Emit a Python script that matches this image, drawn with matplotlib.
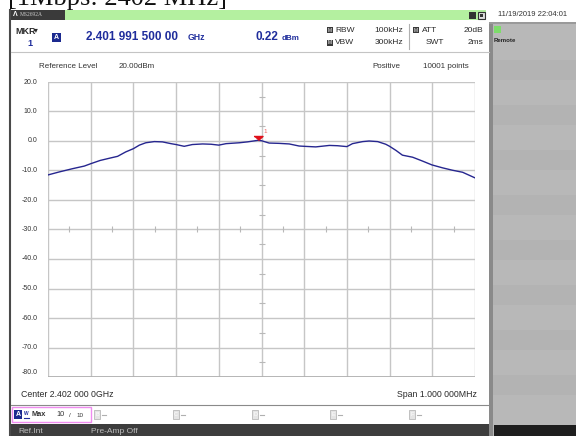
import numpy as np
import matplotlib
matplotlib.use("Agg")
import matplotlib.pyplot as plt
from matplotlib.patches import Rectangle

plt.rcParams['font.family'] = ['Liberation Sans', 'DejaVu Sans']

# Trace (Max hold): offset from 2.402 GHz centre in kHz, level in dBm
freq_offset_khz = [-500, -474, -443, -415, -400, -378, -355, -337, -318, -300,
                   -286, -271, -251, -232, -212, -200, -181, -162, -138, -118,
                   -100, -83, -52, -33, -8.5, 0, 18, 41, 65, 88,
                   100, 127, 159, 178, 200, 213, 237, 252, 272, 291,
                   300, 315, 330, 354, 377, 399, 424, 447, 471, 500]
level_dbm = [-11.5, -10.5, -9.4, -8.5, -7.7, -6.6, -5.8, -5.2, -3.7, -2.6,
             -1.4, -0.6, -0.2, -0.3, -0.9, -1.2, -1.8, -1.2, -1.0, -1.1,
             -1.4, -0.9, -0.6, -0.3, 0.22, 0.1, -0.7, -0.8, -1.0, -1.7,
             -1.8, -2.0, -1.5, -1.6, -1.9, -0.9, -0.2, 0.0, -0.2, -1.1,
             -1.8, -3.2, -4.8, -5.5, -6.8, -8.1, -9.1, -9.9, -10.6, -12.5]

marker_khz = -8.5
marker_dbm = 0.22

y_ticks = [20, 10, 0, -10, -20, -30, -40, -50, -60, -70, -80]
x_grid = np.arange(-500, 501, 100)

blue = '#1f2d9c'
dark = '#2a2a2a'

fig = plt.figure(figsize=(5.76, 4.36), dpi=100)

# background layer in pixel coordinates (0..576, 0..436 from top)
bg = fig.add_axes([0, 0, 1, 1])
bg.set_xlim(0, 576)
bg.set_ylim(436, 0)
bg.axis('off')

def box(x0, y0, x1, y1, **kw):
    bg.add_patch(Rectangle((x0, y0), x1 - x0, y1 - y0, **kw))

# title above the screenshot (cut off at the top)
bg.text(8, 4.5, '[1Mbps: 2402 MHz]', family=['Liberation Serif', 'DejaVu Serif'],
        fontsize=19, va='baseline', ha='left', color='#111111')

# instrument bar
box(10, 10, 65, 20, color='#3a3a3a', lw=0)
bg.text(13, 15, 'Λ', color='white', fontsize=5, fontweight='bold', va='center')
bg.text(20, 15, 'MS2692A', color='#cccccc', fontsize=4,
        family=['Liberation Serif', 'DejaVu Serif'], va='center')
box(65, 10, 486, 20, color='#b4f0a0', lw=0)
box(469, 12, 476, 19, color='#333333', lw=0)
box(478, 12, 485, 19, facecolor='#dddddd', edgecolor='#333333', lw=0.8)
box(480, 14, 483, 17, color='#333333', lw=0)
bg.text(498, 14, '11/19/2019 22:04:01', fontsize=5.5, color='#333333', va='center')

# screen left border
bg.plot([10, 10], [10, 436], color='#4a4a4a', lw=1.5)

# right side panel
box(489, 22, 576, 436, color='#b8b8b8', lw=0)
for yb in (60, 105, 150, 195, 240, 285, 330, 375):
    box(493, yb, 576, yb + 20, color='#b3b3b3', lw=0)
box(489, 22, 493, 436, color='#8a8a8a', lw=0)
box(489, 22, 576, 24, color='#9a9a9a', lw=0)
box(494, 26, 501, 33, color='#7ddc6a', lw=0)
bg.text(494, 41, 'Remote', fontsize=4.3, fontweight='bold', color='#222222', va='center')
box(494, 425, 576, 436, color='#1e1e1e', lw=0)

# marker readout header
bg.text(15, 31, 'MKR', fontsize=6.5, fontweight='bold', color=dark, va='center')
bg.text(34, 30, '▾', fontsize=5.5, color=dark, va='center', family=['DejaVu Sans'])
bg.text(30, 43, '1', fontsize=6.5, fontweight='bold', color=blue, va='center', ha='center')
box(52, 33, 61, 42, color='#1c2a8f', lw=0)
bg.text(56.5, 37.5, 'A', fontsize=5, fontweight='bold', color='white', ha='center', va='center')
bg.text(86, 37, '2.401 991 500 00', fontsize=8.5, fontweight='bold', color=blue, va='center')
bg.text(188, 38, 'GHz', fontsize=6.3, fontweight='bold', color=blue, va='center')
bg.text(255, 37, '0.22', fontsize=8.5, fontweight='bold', color=blue, va='center')
bg.text(282, 38, 'dBm', fontsize=5.8, fontweight='bold', color=blue, va='center')

for (ix, iy) in [(327, 30), (327, 43), (413, 30)]:
    box(ix, iy - 3, ix + 6, iy + 3, color='#3a3a3a', lw=0)
    bg.text(ix + 3, iy, 'M', fontsize=3.5, color='white', ha='center', va='center')
bg.text(335, 30, 'RBW', fontsize=6, color=dark, va='center')
bg.text(335, 43, 'VBW', fontsize=6, color=dark, va='center')
bg.text(403, 30, '100kHz', fontsize=6, color=dark, va='center', ha='right')
bg.text(403, 43, '300kHz', fontsize=6, color=dark, va='center', ha='right')
bg.plot([409, 409], [24, 49], color='#b0b0b0', lw=0.8)
bg.text(422, 30, 'ATT', fontsize=6, color=dark, va='center')
bg.text(426, 43, 'SWT', fontsize=6, color=dark, va='center')
bg.text(483, 30, '20dB', fontsize=6, color=dark, va='center', ha='right')
bg.text(483, 43, '2ms', fontsize=6, color=dark, va='center', ha='right')
bg.plot([11, 489], [52, 52], color='#c4c4c4', lw=0.8)

bg.text(39, 66, 'Reference Level', fontsize=5.8, color='#333333', va='center')
bg.text(119, 66, '20.00dBm', fontsize=5.8, color='#333333', va='center')
bg.text(372, 66, 'Positive', fontsize=5.8, color='#333333', va='center')
bg.text(423, 66, '10001 points', fontsize=5.8, color='#333333', va='center')

# footer
bg.text(21, 394, 'Center 2.402 000 0GHz', fontsize=6.3, color=dark, va='center')
bg.text(477, 394, 'Span 1.000 000MHz', fontsize=6.3, color=dark, va='center', ha='right')
bg.plot([11, 489], [405, 405], color='#8a8a8a', lw=0.8)
box(12, 407, 91, 422, facecolor='none', edgecolor='#f08cf0', lw=1)
box(14, 410, 22, 419, color='#1c2a8f', lw=0)
bg.text(18, 414.5, 'A', fontsize=5, fontweight='bold', color='white', ha='center', va='center')
bg.text(26, 413, 'W', fontsize=3.5, fontweight='bold', color=blue, ha='center', va='center')
bg.plot([23.5, 28.5], [418, 418], color=blue, lw=0.8)
bg.text(32, 414.5, 'Max', fontsize=5.3, fontweight='bold', color='#333333', va='center')
bg.text(56, 414.5, '10', fontsize=5.3, color='#333333', va='center')
bg.text(69, 415, '/', fontsize=4.5, color='#333333', va='center')
bg.text(76, 415.5, '10', fontsize=4.5, color='#333333', va='center')
for lx, letter in zip([94, 173, 252, 330, 409], 'BCDEF'):
    box(lx, 410, lx + 6, 419, facecolor='#e4e4e4', edgecolor='#b8b8b8', lw=0.6)
    bg.text(lx + 3, 414.5, letter, fontsize=4, color='white', ha='center', va='center')
    bg.plot([lx + 8, lx + 12], [414.5, 414.5], color='#b0b0b0', lw=0.8)
box(11, 424, 489, 436, color='#3d3d3d', lw=0)
bg.text(18, 431, 'Ref.Int', fontsize=6, color='#bdbdbd', va='center')
bg.text(91, 431, 'Pre-Amp Off', fontsize=6, color='#bdbdbd', va='center')

# spectrum graticule
ax = fig.add_axes([48 / 576, 1 - 377 / 436, 427 / 576, 295 / 436])
ax.set_xlim(-500, 500)
ax.set_ylim(-80, 20)
ax.set_facecolor('white')
for s in ax.spines.values():
    s.set_visible(False)
ax.set_xticks([])
ax.set_yticks([])
for xv in x_grid:
    ax.axvline(xv, color='#c6c6c6', lw=1, zorder=1)
for yv in y_ticks:
    ax.axhline(yv, color='#c6c6c6', lw=1, zorder=1)
ax.axhline(-80, color='#b0b0b0', lw=2, zorder=1)

# small ticks on the centre cross
ax.plot(np.arange(-450, 451, 100), [-30] * 10, ls='none', marker='|',
        ms=4, mew=0.8, color='#b8b8b8', zorder=1)
ax.plot([0] * 10, np.arange(15, -80, -10), ls='none', marker='_',
        ms=4, mew=0.8, color='#b8b8b8', zorder=1)

for yv in y_ticks:
    ax.text(-0.025, yv if yv > -80 else -78.5, f'{yv:.1f}', transform=ax.get_yaxis_transform(),
            fontsize=5, color='#333333', ha='right', va='center')

ax.plot(freq_offset_khz, level_dbm, color='#26268f', lw=1, zorder=3)

ax.plot(marker_khz, marker_dbm, ls='none',
        marker=[(-4.5, 4), (4.5, 4), (0, 0)], ms=6.5, color='#e0101a', zorder=4)
ax.annotate('1', (marker_khz, marker_dbm), xytext=(4, 5), textcoords='offset points',
            fontsize=4.5, color='#f06060')

fig.savefig('out.png', dpi=100)
